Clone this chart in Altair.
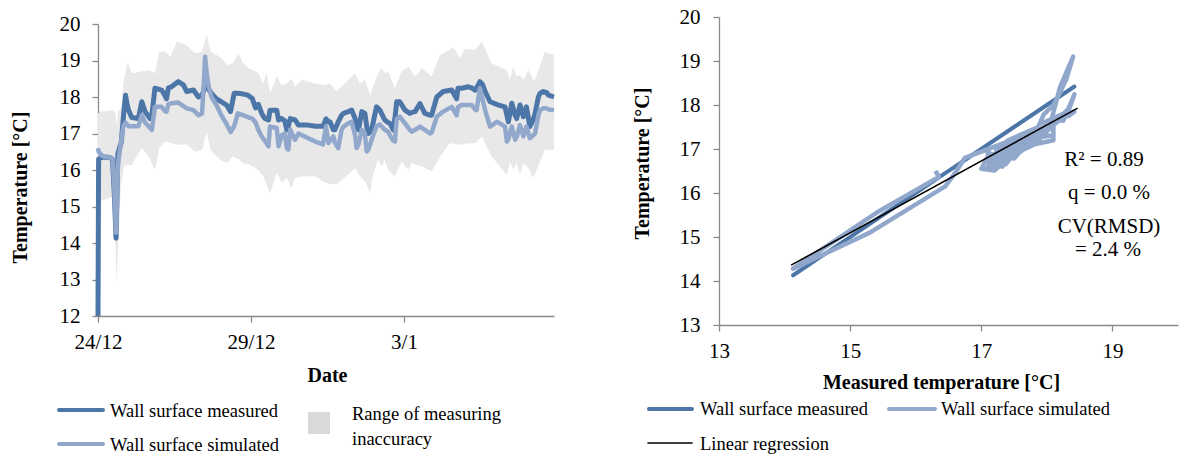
import altair as alt
import pandas as pd

# ---------------- data ----------------
# days after 24/12
days = [0.00, 0.02, 0.15, 0.35, 0.47, 0.53, 0.59, 0.62, 0.65, 0.70, 0.76, 0.83, 0.90, 0.95,
        1.00, 1.10, 1.32, 1.43, 1.54, 1.70, 1.76, 1.86, 2.08, 2.18, 2.24, 2.30, 2.40, 2.62,
        2.79, 2.90, 3.12, 3.28, 3.40, 3.46, 3.50, 3.56, 3.62, 3.71, 3.87, 4.03, 4.20, 4.33,
        4.45, 4.57, 4.75, 4.90, 5.04, 5.15, 5.24, 5.35, 5.45, 5.57, 5.62, 5.84, 5.90, 6.00,
        6.10, 6.17, 6.22, 6.28, 6.44, 6.55, 6.87, 7.10, 7.35, 7.45, 7.53, 7.58, 7.69, 7.74,
        7.85, 7.96, 8.02, 8.18, 8.29, 8.40, 8.45, 8.51, 8.62, 8.72, 8.78, 8.83, 8.94, 9.10,
        9.21, 9.37, 9.48, 9.54, 9.65, 9.70, 9.76, 9.86, 10.03, 10.19, 10.25, 10.36, 10.52,
        10.68, 10.85, 10.90, 11.07, 11.28, 11.56, 11.72, 11.76, 11.88, 12.10, 12.21, 12.32,
        12.37, 12.48, 12.56, 12.65, 12.81, 13.03, 13.09, 13.30, 13.36, 13.41, 13.52, 13.63,
        13.68, 13.79, 13.90, 14.00, 14.11, 14.22, 14.28, 14.39, 14.44, 14.55, 14.66, 14.72,
        14.90]
measured = [12.00, 16.30, 16.35, 16.35, 16.30, 15.40, 14.13, 15.30, 16.45, 16.60, 16.75, 17.46, 18.05, 17.80,
            17.64, 17.44, 17.41, 17.87, 17.60, 17.41, 17.50, 18.24, 18.19, 18.05, 17.95, 18.25, 18.28, 18.42,
            18.33, 18.15, 18.19, 18.00, 18.05, 18.20, 18.40, 18.30, 18.20, 18.10, 17.95, 17.87, 17.78, 17.60,
            18.10, 18.10, 18.08, 18.05, 17.96, 17.70, 17.80, 17.55, 17.41, 17.37, 17.64, 17.64, 17.37, 17.41,
            17.35, 17.10, 17.20, 17.41, 17.37, 17.23, 17.23, 17.20, 17.20, 17.40, 17.32, 17.32, 17.10, 17.10,
            17.32, 17.50, 17.55, 17.60, 17.64, 17.41, 17.20, 17.10, 17.60, 17.55, 17.20, 17.00, 17.10, 17.73,
            17.64, 17.37, 17.30, 17.28, 17.10, 17.40, 17.87, 17.87, 17.64, 17.55, 17.58, 17.60, 17.82,
            17.55, 17.50, 17.50, 18.00, 18.15, 18.19, 17.95, 18.24, 18.24, 18.28, 18.25, 18.19,
            18.25, 18.42, 18.35, 18.15, 17.87, 17.80, 17.78, 17.73, 17.50, 17.32, 17.83, 17.50,
            17.41, 17.78, 17.46, 17.73, 17.19, 17.37, 17.55, 18.00, 18.10, 18.15, 18.12, 18.05,
            18.00]
simulated = [16.60, 16.50, 16.38, 16.35, 16.32, 15.55, 14.28, 15.10, 16.15, 16.45, 16.80, 17.20, 17.30, 17.25,
             17.20, 17.20, 17.20, 17.50, 17.30, 17.15, 17.10, 17.73, 17.73, 17.62, 17.60, 17.80, 17.83, 17.85,
             17.75, 17.69, 17.64, 17.50, 17.55, 18.40, 19.10, 18.60, 18.28, 18.00, 17.78, 17.50, 17.26, 17.04,
             17.20, 17.55, 17.50, 17.45, 17.41, 17.30, 17.10, 16.92, 16.80, 16.65, 17.19, 17.15, 16.65, 16.95,
             17.00, 16.60, 16.56, 17.10, 16.83, 17.00, 16.87, 16.78, 16.70, 17.19, 16.74, 16.80, 16.92, 16.75,
             16.60, 17.10, 17.19, 17.28, 17.32, 16.95, 16.60, 16.70, 17.10, 17.00, 16.51, 16.55, 16.83, 17.20,
             17.25, 17.10, 17.05, 16.95, 16.80, 16.78, 17.40, 17.46, 17.28, 17.10, 17.05, 17.10, 17.19,
             17.10, 17.00, 17.02, 17.46, 17.60, 17.73, 17.50, 17.72, 17.78, 17.78, 17.78, 17.66,
             17.64, 18.24, 17.95, 17.64, 17.19, 17.32, 17.30, 17.19, 16.78, 16.85, 17.19, 16.83,
             16.90, 17.23, 16.92, 17.19, 16.87, 16.95, 17.00, 17.50, 17.64, 17.69, 17.69, 17.66,
             17.64]

band_days = [0.00, 0.10, 0.47, 0.56, 0.61, 0.66, 0.75, 0.85, 0.97, 1.10, 1.43, 1.65, 1.86, 2.00,
             2.20, 2.36, 2.58, 2.90, 3.17, 3.40, 3.55, 3.68, 3.99, 4.23, 4.40, 4.59, 4.75, 4.92,
             5.04, 5.24, 5.40, 5.51, 5.62, 5.84, 6.00, 6.17, 6.33, 6.44, 6.66, 7.08, 7.42, 7.58,
             7.80, 8.40, 8.56, 8.72, 8.89, 8.99, 9.15, 9.27, 9.37, 9.48, 9.70, 9.92, 10.14, 10.25,
             10.36, 10.58, 10.90, 11.18, 11.50, 11.61, 11.83, 11.99, 12.32, 12.54, 12.86, 13.36,
             13.46, 13.57, 13.68, 13.79, 13.90, 14.06, 14.22, 14.28, 14.60, 14.90]
band_upper = [17.55, 17.60, 17.64, 17.60, 17.20, 17.60, 17.70, 18.50, 18.95, 18.65, 18.70, 18.74, 18.65, 19.24,
              19.24, 19.10, 19.52, 19.42, 19.20, 19.24, 19.70, 19.24, 19.10, 18.88, 18.92, 19.20, 18.92, 18.79,
              18.75, 18.65, 18.37, 18.65, 18.10, 18.56, 18.33, 18.37, 18.50, 18.28, 18.47, 18.37, 18.33, 18.37,
              18.15, 18.65, 18.37, 18.47, 18.05, 18.28, 18.65, 18.79, 18.65, 18.70, 18.24, 18.70, 18.83, 18.70,
              18.56, 18.79, 18.56, 19.15, 19.30, 19.38, 19.06, 19.33, 19.29, 19.52, 18.92, 18.74,
              18.47, 18.83, 18.56, 18.60, 18.47, 18.74, 18.47, 18.47, 19.24, 19.15]
band_lower = [15.10, 15.15, 15.27, 14.20, 12.90, 14.00, 15.60, 16.10, 16.14, 16.14, 16.60, 16.37, 16.00, 16.60,
              16.78, 16.75, 16.69, 16.70, 16.50, 16.55, 17.04, 16.55, 16.28, 16.19, 16.37, 16.30, 16.19, 16.15,
              16.10, 16.00, 15.83, 15.60, 15.37, 15.92, 15.65, 15.78, 15.50, 15.78, 15.83, 15.83, 15.65, 15.62,
              15.60, 16.05, 15.83, 15.70, 15.37, 15.90, 16.28, 16.10, 16.28, 16.00, 15.83, 16.23, 16.00, 16.19,
              16.15, 16.10, 15.96, 16.37, 16.74, 16.72, 16.69, 16.72, 16.74, 16.92, 16.37, 15.87,
              16.23, 16.00, 16.19, 15.87, 16.19, 16.05, 15.78, 15.90, 16.55, 16.55]

reg_x = [14.10, 18.47]
reg_y = [14.36, 17.93]

date_tick_days = [0, 5, 10]
date_tick_labels = ["24/12", "29/12", "3/1"]
left_temp_ticks = [12, 13, 14, 15, 16, 17, 18, 19, 20]
right_temp_ticks = [13, 14, 15, 16, 17, 18, 19, 20]
right_meas_ticks = [13, 15, 17, 19]

stats_lines = ["R\u00b2 = 0.89", "q = 0.0 %", "CV(RMSD)", "= 2.4 %"]
legend_left = ["Wall surface measured", "Wall surface simulated", "Range of measuring", "inaccuracy"]
legend_right = ["Wall surface measured", "Wall surface simulated", "Linear regression"]

# ---------------- styling ----------------
C_MEAS = "#4d76a8"
C_SIM = "#91a8cc"
C_BAND = "#e8e8e8"
C_BAND_LEG = "#d9d9d9"
C_AXIS = "#8a8a8a"
FONT = "Liberation Serif"
TICK_FS = 21
TITLE_FS = 20
LEG_FS = 18.5
W, H = 1184, 457

ts = pd.DataFrame({"day": days, "measured": measured, "simulated": simulated})
band = pd.DataFrame({"day": band_days, "upper": band_upper, "lower": band_lower})
reg = pd.DataFrame({"mx": reg_x, "ry": reg_y})
one = pd.DataFrame({"k": [0]})

label_expr = " : ".join(
    f"datum.value == {d} ? '{l}'" for d, l in zip(date_tick_days, date_tick_labels)
) + " : ''"

common_axis = dict(grid=False, domainColor=C_AXIS, tickColor=C_AXIS, domainWidth=1.3, tickWidth=1.3,
                   tickSize=6, labelFont=FONT, labelFontSize=TICK_FS, labelColor="black",
                   labelFlush=False, labelOverlap=False,
                   titleFont=FONT, titleFontSize=TITLE_FS, titleFontWeight="bold", titleColor="black")

# left panel scales/axes
lx_scale = alt.Scale(domain=[0, 14.9], range=[98, 554], nice=False, zero=False)
ly_scale = alt.Scale(domain=[12, 20], range=[316, 24], nice=False, zero=False)
lx_axis = alt.Axis(orient="bottom", offset=316 - H, values=date_tick_days, labelExpr=label_expr,
                   labelPadding=9, title="Date", titleX=327, titleY=59, titleBaseline="middle",
                   titleAlign="center", **common_axis)
ly_axis = alt.Axis(orient="left", offset=-98, values=left_temp_ticks, labelPadding=12,
                   title="Temperature [°C]", titleX=-78, titleY=187, titleAngle=270,
                   titleBaseline="middle", titleAlign="center", **common_axis)

lx = alt.X("day:Q", scale=lx_scale, axis=lx_axis)

band_layer = alt.Chart(band).mark_area(color=C_BAND, opacity=1).encode(
    x=lx, y=alt.Y("upper:Q", scale=ly_scale, axis=ly_axis), y2="lower:Q")
meas_layer = alt.Chart(ts).mark_line(color=C_MEAS, strokeWidth=5, strokeJoin="round").encode(
    x=lx, y=alt.Y("measured:Q", scale=ly_scale, axis=ly_axis))
sim_layer = alt.Chart(ts).mark_line(color=C_SIM, strokeWidth=4.5, strokeJoin="round").encode(
    x=lx, y=alt.Y("simulated:Q", scale=ly_scale, axis=ly_axis))
left = alt.layer(band_layer, meas_layer, sim_layer)

# right panel scales/axes
rx_scale = alt.Scale(domain=[13, 20], range=[719, 1178], nice=False, zero=False)
ry_scale = alt.Scale(domain=[13, 20], range=[325, 17], nice=False, zero=False)
rx_axis = alt.Axis(orient="bottom", offset=325 - H, values=right_meas_ticks, labelPadding=9,
                   title="Measured temperature [°C]", titleX=941, titleY=57, titleBaseline="middle",
                   titleAlign="center", **common_axis)
ry_axis = alt.Axis(orient="left", offset=-719, values=right_temp_ticks, labelPadding=13,
                   title="Temperature [°C]", titleX=-77, titleY=163, titleAngle=270,
                   titleBaseline="middle", titleAlign="center", **common_axis)

ts_r = alt.Chart(ts).transform_filter(alt.datum.measured >= 13)
r_meas = ts_r.mark_line(color=C_MEAS, strokeWidth=4, strokeJoin="round").encode(
    x=alt.X("measured:Q", scale=rx_scale, axis=rx_axis),
    y=alt.Y("measured:Q", scale=ry_scale, axis=ry_axis),
    order="day:Q")
r_sim = ts_r.mark_line(color=C_SIM, strokeWidth=4.5, strokeJoin="round").encode(
    x=alt.X("measured:Q", scale=rx_scale, axis=rx_axis),
    y=alt.Y("simulated:Q", scale=ry_scale, axis=ry_axis),
    order="day:Q")
r_reg = alt.Chart(reg).mark_line(color="black", strokeWidth=1.6).encode(
    x=alt.X("mx:Q", scale=rx_scale, axis=rx_axis),
    y=alt.Y("ry:Q", scale=ry_scale, axis=ry_axis))
right = alt.layer(r_meas, r_sim, r_reg)


# ---------------- legends & annotations (pixel placed) ----------------
def txt(s, x, y, size=LEG_FS, align="left"):
    return alt.Chart(one).mark_text(font=FONT, fontSize=size, color="black", align=align,
                                    baseline="middle").encode(
        x=alt.value(x), y=alt.value(y), text=alt.value(s))


def swatch(x1, x2, y, color, width):
    return alt.Chart(one).mark_rule(color=color, strokeWidth=width, strokeCap="round").encode(
        x=alt.value(x1), x2=alt.value(x2), y=alt.value(y))


deco = [
    swatch(59, 103, 410, C_MEAS, 4), txt(legend_left[0], 110, 411),
    swatch(59, 103, 444, C_SIM, 4), txt(legend_left[1], 110, 445),
    alt.Chart(one).mark_rect(color=C_BAND_LEG).encode(
        x=alt.value(308), x2=alt.value(330), y=alt.value(412), y2=alt.value(434)),
    txt(legend_left[2], 352, 414), txt(legend_left[3], 352, 439),
    swatch(649, 692, 409, C_MEAS, 4), txt(legend_right[0], 700, 409),
    swatch(889, 935, 409, C_SIM, 4), txt(legend_right[1], 941, 409),
    swatch(648, 692, 443, "black", 1.6), txt(legend_right[2], 700, 444),
    txt(stats_lines[0], 1104, 160, size=21, align="center"),
    txt(stats_lines[1], 1109, 193, size=21, align="center"),
    txt(stats_lines[2], 1109, 227, size=21, align="center"),
    txt(stats_lines[3], 1108, 250, size=21, align="center"),
]

chart = alt.layer(left, right, *deco).resolve_scale(x="independent", y="independent").properties(
    width=W, height=H, padding=0, autosize=alt.AutoSizeParams(type="none"),
    background="white").configure_view(stroke=None)

chart.save("out.html", embed_options={"renderer": "svg", "actions": False})
